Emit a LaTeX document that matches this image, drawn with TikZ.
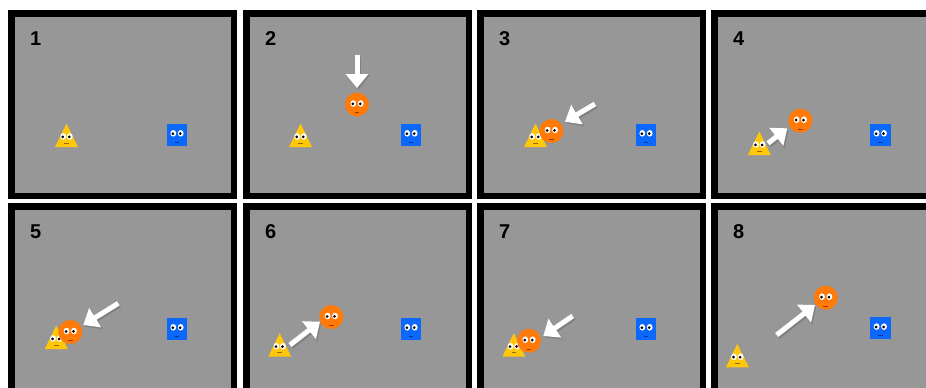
\documentclass[tikz,border=0pt]{standalone}
\usepackage{fontspec}
\setmainfont{Liberation Sans}
\usetikzlibrary{arrows.meta}

\definecolor{panelgray}{RGB}{151,151,151}
\definecolor{shadowgray}{RGB}{128,128,128}
\definecolor{triyellow}{RGB}{255,198,10}
\definecolor{trimouth}{RGB}{150,110,0}
\definecolor{sqblue}{RGB}{12,104,250}
\definecolor{sqmouth}{RGB}{10,50,140}
\definecolor{ballorange}{RGB}{255,122,8}
\definecolor{ballmouth}{RGB}{150,60,0}

\tikzset{
  panelframe/.style={fill=panelgray, draw=black, line width=6.5},
  numlabel/.style={anchor=base west, inner sep=0, font=\fontsize{20}{20}\selectfont\bfseries},
  arrowwhite/.style={draw=white, line width=5, -{Triangle[width=22pt,length=14pt]}},
  arrowshadow/.style={draw=shadowgray, line width=5.5, -{Triangle[width=23pt,length=14.5pt]}},
  mouthline/.style={line width=0.8},
  eye/.pic={
    \fill[white] (0,0) ellipse [x radius=2.9, y radius=3.3];
    \fill[black] (-0.5,0.4) circle [radius=1.5];
  },
  tri/.pic={
    \fill[triyellow] (-11.5,0) -- (11.5,0) -- (0,-23.5) -- cycle;
    \pic at (-3.3,-10.5) {eye};
    \pic at (3.3,-10.5) {eye};
    \draw[mouthline, trimouth] (-2.3,-4) -- (2.3,-4);
  },
  sq/.pic={
    \fill[sqblue] (-10.3,-11) rectangle (10.3,11);
    \pic at (-3.7,-1.7) {eye};
    \pic at (3.7,-1.7) {eye};
    \draw[mouthline, sqmouth] (-2.4,7.3) -- (2.4,7.3);
  },
  ball/.pic={
    \fill[ballorange] (0,0) circle [radius=12];
    \pic at (-3.7,-1) {eye};
    \pic at (3.7,-1) {eye};
    \draw[mouthline, ballmouth] (-2.4,8.3) -- (2.4,8.3);
  },
}

% white arrow with a slight drop shadow, between two named coordinates
\newcommand\whitearrow[2]{%
  \draw[arrowshadow] ([shift={(1.2,1.6)}]#1) -- ([shift={(1.2,1.6)}]#2);
  \draw[arrowwhite] (#1) -- (#2);
}

\begin{document}
\begin{tikzpicture}[x=1pt, y=-1pt]
  \useasboundingbox (0,0) rectangle (926,388);
  \fill[white] (0,0) rectangle (926,388);
  \clip (0,0) rectangle (926,388);

  % the eight frames and their numbers
  \foreach \ox/\oy/\h/\n in {8/10/189/1, 243/10/189/2, 477/10/189/3, 711/10/189/4,
                             8/203/196/5, 243/203/196/6, 477/203/196/7, 711/203/196/8} {
    \draw[panelframe] (\ox+3.25,\oy+3.25) rectangle (\ox+225.75,\oy+\h-3.25);
    \node[numlabel] (n\n) at (\ox+22,\oy+35) {\n};
  }

  % frame 1
  \pic (t1) at (66.5,147) {tri};
  \pic (s1) at (177,135) {sq};

  % frame 2
  \pic (t2) at (300.5,147) {tri};
  \pic (s2) at (411,135) {sq};
  \pic (b2) at (357,104.5) {ball};
  \coordinate (a2s) at (357,55);
  \coordinate (a2e) at (357,88);
  \whitearrow{a2s}{a2e}

  % frame 3
  \pic (t3) at (535.5,147) {tri};
  \pic (b3) at (551.3,131) {ball};
  \pic (s3) at (646,135) {sq};
  \coordinate (a3s) at (595,104);
  \coordinate (a3e) at (565,121.7);
  \whitearrow{a3s}{a3e}

  % frame 4
  \pic (t4) at (759.3,155) {tri};
  \pic (b4) at (800.3,120.7) {ball};
  \pic (s4) at (880.3,135) {sq};
  \coordinate (a4s) at (768,143.3);
  \coordinate (a4e) at (787.3,128.3);
  \whitearrow{a4s}{a4e}

  % frame 5
  \pic (t5) at (56.3,349) {tri};
  \pic (b5) at (70.3,332) {ball};
  \pic (s5) at (177,329) {sq};
  \coordinate (a5s) at (118.3,303.3);
  \coordinate (a5e) at (83.3,325);
  \whitearrow{a5s}{a5e}

  % frame 6
  \pic (t6) at (279.7,356.7) {tri};
  \pic (b6) at (331.3,317) {ball};
  \pic (s6) at (411,329) {sq};
  \coordinate (a6s) at (290,345);
  \coordinate (a6e) at (320,321.7);
  \whitearrow{a6s}{a6e}

  % frame 7
  \pic (t7) at (513.8,356.7) {tri};
  \pic (b7) at (529,340.7) {ball};
  \pic (s7) at (646,329) {sq};
  \coordinate (a7s) at (572.7,316);
  \coordinate (a7e) at (543.3,336);
  \whitearrow{a7s}{a7e}

  % frame 8
  \pic (t8) at (737.3,367.3) {tri};
  \pic (b8) at (825.7,297.7) {ball};
  \pic (s8) at (880.3,328.3) {sq};
  \coordinate (a8s) at (776.7,335);
  \coordinate (a8e) at (815,305);
  \whitearrow{a8s}{a8e}
\end{tikzpicture}
\end{document}
